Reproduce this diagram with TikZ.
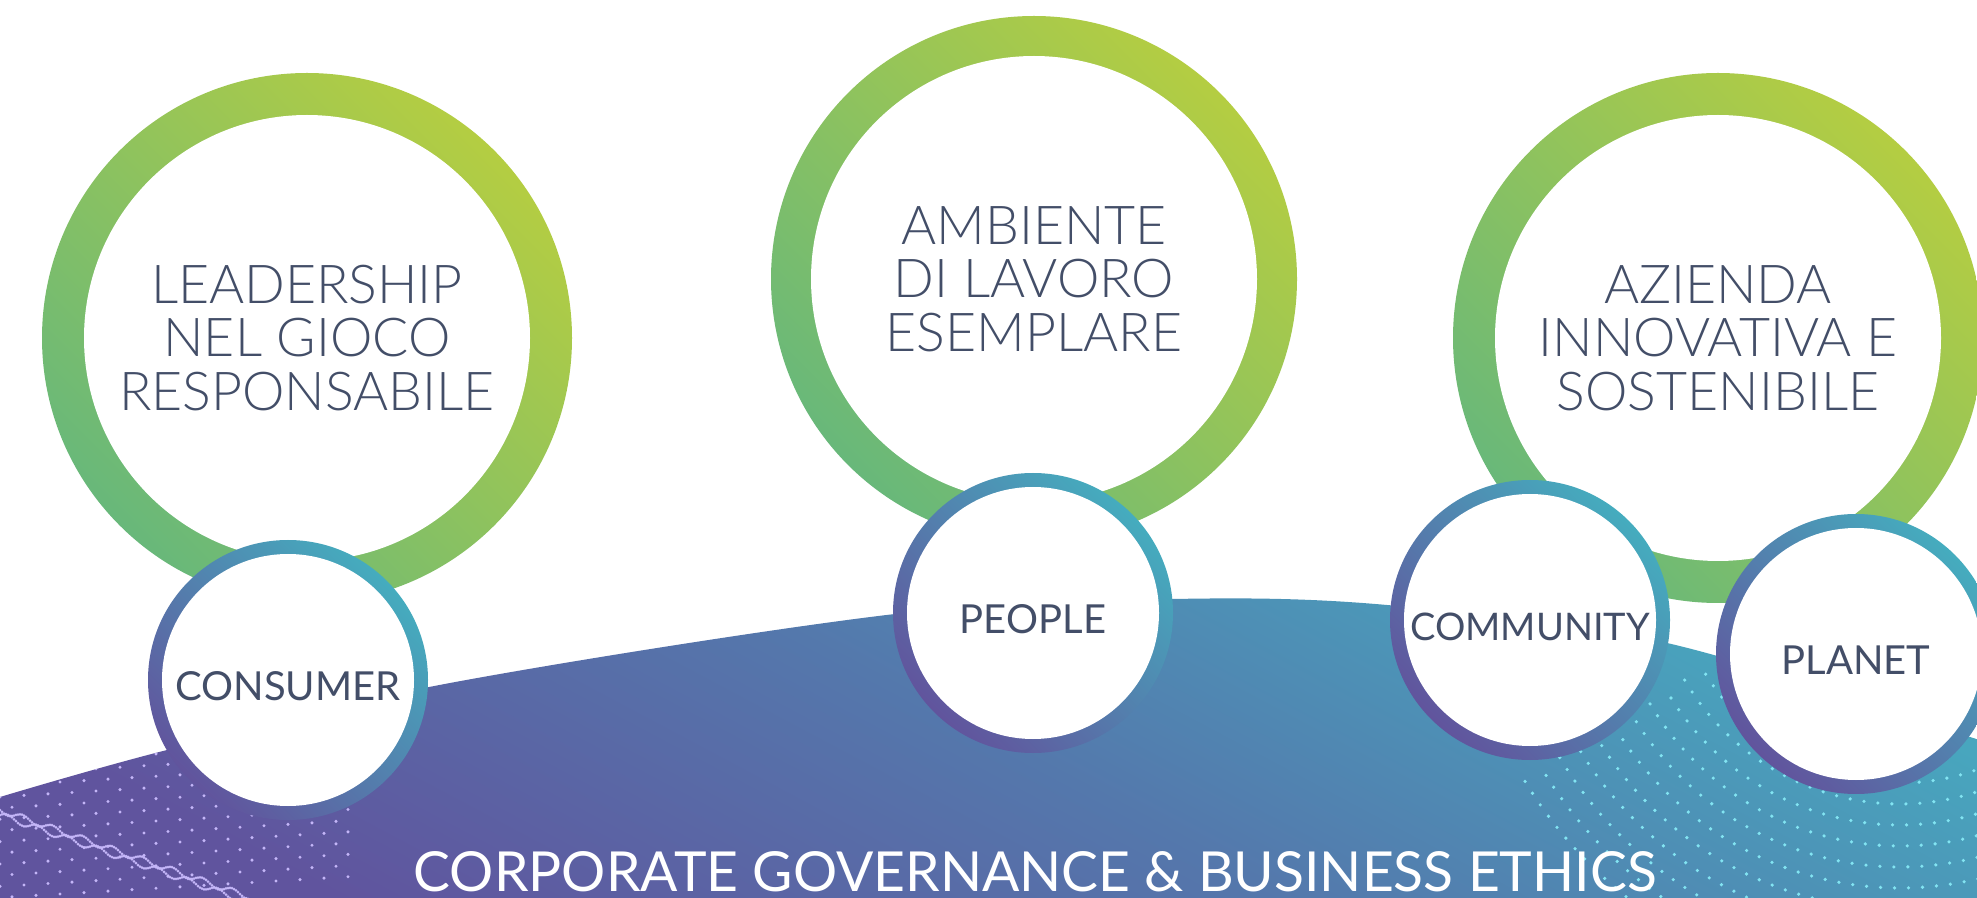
\documentclass[tikz,border=0pt]{standalone}
\usepackage{fontspec}
\newfontfamily\lightfont{Lato Light}
\newfontfamily\regfont{Lato}
\definecolor{inkc}{RGB}{67,78,104}
\definecolor{limeR}{RGB}{180,205,66}
\definecolor{greenR}{RGB}{104,184,122}
\definecolor{tealR}{RGB}{69,172,190}
\definecolor{purpR}{RGB}{97,84,157}
\definecolor{tealB}{RGB}{72,166,190}
\definecolor{purpB}{RGB}{96,84,158}
\definecolor{midB}{RGB}{84,120,172}
\definecolor{dotL}{RGB}{196,182,248}
\definecolor{dotR}{RGB}{130,228,242}
% outline of the curved band at the bottom
\newcommand\bandoutline{(0,898) -- plot[smooth, tension=0.55] coordinates {(0,797) (167,750) (450,683) (895,614) (1173,599) (1387,605) (1667,643) (1970,737) (1990,744)} -- (1990,898) -- cycle}
\tikzset{
  bigring/.style={top color=limeR, bottom color=greenR, shading angle=-45},
  smallring/.style={top color=tealR, bottom color=purpR, shading angle=-45},
  bigdisk/.style={circle, fill=white, minimum size=223pt, inner sep=0pt, align=center,
    text=inkc, font=\lightfont\fontsize{26.8}{26.85}\selectfont},
  smalldisk/.style={circle, fill=white, minimum size=126pt, inner sep=0pt,
    text=inkc, font=\regfont\fontsize{20}{24}\selectfont, text height=20.25pt},
  bandtext/.style={text=white, inner sep=0pt, anchor=base,
    font=\regfont\fontsize{27.6}{30}\selectfont},
}
\begin{document}
\begin{tikzpicture}[x=0.5pt,y=-0.5pt]
\useasboundingbox (0,0) rectangle (1977,898);
\fill[white] (0,0) rectangle (1977,898);

% centres of the rings
\coordinate (cL) at (307,338);
\coordinate (cM) at (1034,279);
\coordinate (cR) at (1718,338);
\coordinate (cCons) at (288,680);
\coordinate (cPeop) at (1033,613);
\coordinate (cComm) at (1530,620);
\coordinate (cPlan) at (1856,654);

% band
\shade[top color=tealB, bottom color=purpB, middle color=midB, shading angle=-28] \bandoutline;

% dotted textures inside the band
\begin{scope}
  \clip \bandoutline;
  \foreach \j in {0,...,13}{
    \foreach \i in {0,...,14}{
      \pgfmathsetmacro\xx{\i*24+mod(\j,2)*12}
      \pgfmathsetmacro\yy{752+\j*11.2-0.06*\xx}
      \fill[dotL] (\xx,\yy) circle (1.7);
    }}
  \foreach \t in {0,2,...,250}{
    \fill[dotL] (\t,{810+0.35*\t+3*sin(\t*12)}) circle (1.5);
    \fill[dotL] (\t,{815+0.35*\t-3*sin(\t*12)}) circle (1.5);
  }
  \foreach \k in {0,...,10}{
    \pgfmathsetmacro\rr{228+21*\k}
    \pgfmathsetmacro\st{802/\rr}
    \pgfmathsetmacro\sb{50+\st}
    \foreach \a in {50,\sb,...,150}{
      \fill[dotR] ({1900+\rr*cos(\a)},{555+\rr*sin(\a)}) circle (1.8);
    }}
\end{scope}

% large rings
\shade[bigring] (cL) circle (265);
\shade[bigring] (cM) circle (263);
\shade[bigring] (cR) circle (265);
\node[bigdisk] (lead) at (cL) {LEADERSHIP\\NEL GIOCO\\RESPONSABILE};
\node[bigdisk] (amb) at (cM) {AMBIENTE\\DI LAVORO\\ESEMPLARE};
\node[bigdisk] (azi) at (cR) {AZIENDA\\INNOVATIVA E\\SOSTENIBILE};

% small rings
\shade[smallring] (cCons) circle (140);
\shade[smallring] (cPeop) circle (140);
\shade[smallring] (cComm) circle (140);
\shade[smallring] (cPlan) circle (140);
\node[smalldisk] (cons) at (cCons) {CONSUMER};
\node[smalldisk] (peop) at (cPeop) {PEOPLE};
\node[smalldisk, font=\regfont\fontsize{19}{24}\selectfont] (comm) at (cComm) {COMMUNITY};
\node[smalldisk] (plan) at (cPlan) {PLANET};

% caption on the band
\node[bandtext] (cgbe) at (1035,891) {CORPORATE GOVERNANCE \& BUSINESS ETHICS};
\end{tikzpicture}
\end{document}
